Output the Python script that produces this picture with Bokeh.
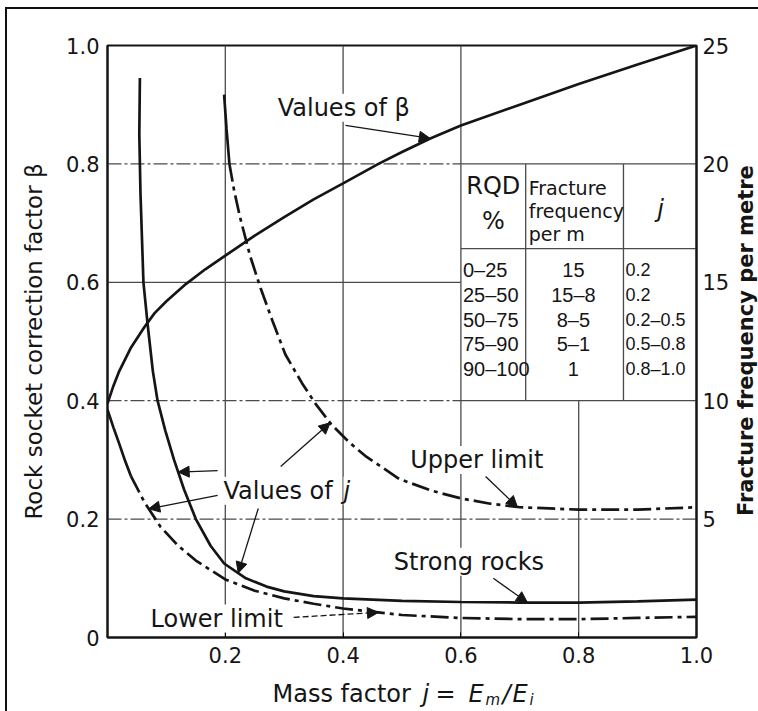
import numpy as np
from bokeh.plotting import figure
from bokeh.layouts import column, row
from bokeh.models import (Range1d, LinearAxis, FixedTicker, Label, Arrow, NormalHead,
                          PrintfTickFormatter)
from bokeh.embed import file_html
from bokeh.resources import INLINE

# ---------------- data ----------------
beta_x = [0.0, 0.01, 0.02, 0.04, 0.063, 0.08, 0.10, 0.133, 0.166, 0.20, 0.25, 0.30, 0.35, 0.40,
          0.46, 0.50, 0.548, 0.60, 0.70, 0.80, 0.90, 1.0]
beta_y = [0.395, 0.425, 0.45, 0.49, 0.525, 0.548, 0.568, 0.597, 0.622, 0.645, 0.679, 0.71, 0.74,
          0.767, 0.80, 0.82, 0.843, 0.865, 0.90, 0.935, 0.968, 1.0]

strong_x = [0.055, 0.054, 0.056, 0.061, 0.068, 0.077, 0.085, 0.098, 0.113, 0.13, 0.15, 0.175,
            0.198, 0.235, 0.27, 0.30, 0.35, 0.40, 0.50, 0.60, 0.70, 0.80, 0.90, 1.0]
strong_y = [0.945, 0.85, 0.75, 0.60, 0.53, 0.45, 0.40, 0.35, 0.30, 0.25, 0.20, 0.155,
            0.125, 0.10, 0.086, 0.078, 0.07, 0.066, 0.062, 0.06, 0.059, 0.059, 0.061, 0.064]

lower_x = [0.0, 0.01, 0.02, 0.03, 0.04, 0.063, 0.09, 0.12, 0.15, 0.20, 0.25, 0.30, 0.35, 0.40,
           0.50, 0.60, 0.70, 0.80, 0.90, 1.0]
lower_y = [0.385, 0.355, 0.327, 0.298, 0.272, 0.228, 0.187, 0.155, 0.13, 0.098, 0.079, 0.066,
           0.057, 0.049, 0.038, 0.033, 0.031, 0.031, 0.033, 0.035]

upper_x = [0.198, 0.202, 0.207, 0.215, 0.225, 0.242, 0.26, 0.28, 0.302, 0.33, 0.353, 0.38, 0.41,
           0.44, 0.495, 0.55, 0.60, 0.65, 0.70, 0.80, 0.90, 1.0]
upper_y = [0.917, 0.86, 0.80, 0.755, 0.71, 0.645, 0.59, 0.535, 0.478, 0.43, 0.395, 0.36, 0.33,
           0.305, 0.268, 0.248, 0.235, 0.226, 0.22, 0.216, 0.216, 0.22]

x_ticks = [0.2, 0.4, 0.6, 0.8, 1.0]
y_ticks = [0.0, 0.2, 0.4, 0.6, 0.8, 1.0]
freq_ticks = [5, 10, 15, 20, 25]

table_head = ["RQD", "%"]
table_head2 = ["Fracture", "frequency", "per m"]
rqd = ["0–25", "25–50", "50–75", "75–90", "90–100"]
freq = ["15", "15–8", "8–5", "5–1", "1"]
jvals = ["0.2", "0.2", "0.2–0.5", "0.5–0.8", "0.8–1.0"]

# ---------------- main figure ----------------
INK = "#151515"
GRID = "#4a4a4a"
FONT = "DejaVu Sans"

p = figure(width=725, height=666, output_backend="svg", toolbar_location=None,
           x_range=Range1d(0, 1), y_range=Range1d(0, 1),
           min_border_left=100, min_border_right=36, min_border_top=36, min_border_bottom=38,
           background_fill_color="white", border_fill_color="white")
p.xgrid.visible = False
p.ygrid.visible = False
p.outline_line_color = INK
p.outline_line_width = 2

xaxis = p.xaxis[0]
yaxis = p.yaxis[0]
p.extra_y_ranges = {"freq": Range1d(0, 25)}
raxis = LinearAxis(y_range_name="freq", ticker=FixedTicker(ticks=freq_ticks))
p.add_layout(raxis, "right")

for ax in (xaxis, yaxis, raxis):
    ax.axis_line_color = INK
    ax.axis_line_width = 2
    ax.major_tick_out = 0
    ax.major_tick_in = 0
    ax.minor_tick_out = 0
    ax.minor_tick_in = 0
    ax.major_label_text_font = FONT
    ax.major_label_text_font_size = "21px"
    ax.major_label_text_color = INK

xaxis.ticker = FixedTicker(ticks=x_ticks)
xaxis.formatter = PrintfTickFormatter(format="%.1f")
xaxis.major_tick_in = 5
xaxis.major_label_standoff = 9
yaxis.ticker = FixedTicker(ticks=y_ticks)
yaxis.formatter = PrintfTickFormatter(format="%.1f")
yaxis.major_label_overrides = {0: "0"}
yaxis.major_label_standoff = 8
raxis.major_label_standoff = 6

yaxis.axis_label = "Rock socket correction factor β"
yaxis.axis_label_text_font = FONT
yaxis.axis_label_text_font_size = "23px"
yaxis.axis_label_text_font_style = "normal"
yaxis.axis_label_text_color = INK
yaxis.axis_label_standoff = 16

# ---------------- grid / table rules ----------------
solid_h = [(0.0, 0.6, 0.6, 0.6), (0.6, 0.4, 1.0, 0.4), (0.6, 0.8, 1.0, 0.8), (0.6, 0.657, 1.0, 0.657)]
dash_h = [(0.0, 0.2, 1.0, 0.2), (0.0, 0.4, 0.6, 0.4), (0.0, 0.8, 0.6, 0.8)]
solid_v = [(0.2, 0.0, 0.2, 1.0), (0.4, 0.0, 0.4, 1.0), (0.6, 0.0, 0.6, 1.0), (0.8, 0.0, 0.8, 0.4),
           (0.71, 0.4, 0.71, 0.8), (0.876, 0.4, 0.876, 0.8)]
for segs, dash, w in ((solid_h, "solid", 1.3), (solid_v, "solid", 1.3), (dash_h, "14 3 3 3", 1.2)):
    p.segment(x0=[s[0] for s in segs], y0=[s[1] for s in segs],
              x1=[s[2] for s in segs], y1=[s[3] for s in segs],
              line_color=GRID, line_width=w, line_dash=dash)

# ---------------- curves ----------------
LW = 2.7
DASHDOT = "18 5 4 5"
p.line(beta_x, beta_y, line_color=INK, line_width=LW)
p.line(strong_x, strong_y, line_color=INK, line_width=LW)
p.line(upper_x[:3], upper_y[:3], line_color=INK, line_width=LW)
p.line(upper_x[2:], upper_y[2:], line_color=INK, line_width=LW, line_dash=DASHDOT)
p.line(lower_x[:5], lower_y[:5], line_color=INK, line_width=LW)
p.line(lower_x[4:], lower_y[4:], line_color=INK, line_width=LW, line_dash=DASHDOT)


def on_curve(xs, ys, x):
    xs = np.asarray(xs)
    ys = np.asarray(ys)
    o = np.argsort(xs)
    return float(np.interp(x, xs[o], ys[o]))


def lab(fig, x, y, text, size, style="normal", align="left", font=FONT, xo=0, yo=0,
        bg=None, angle=0.0, baseline="middle"):
    l = Label(x=x, y=y, text=text, text_font=font, text_font_size=f"{size}px",
              text_font_style=style, text_align=align, text_baseline=baseline,
              x_offset=xo, y_offset=yo, angle=angle, text_color=INK)
    if bg:
        l.background_fill_color = bg
    fig.add_layout(l)


def arrow(x0, y0, x1, y1, dash="solid"):
    p.add_layout(Arrow(end=NormalHead(size=11, fill_color=INK, line_color=INK, line_width=1),
                       x_start=x0, y_start=y0, x_end=x1, y_end=y1,
                       line_color=INK, line_width=1.3, line_dash=dash))


# ---------------- annotations ----------------
lab(p, 0.289, 0.895, "Values of β", 24, bg="white")
arrow(0.404, 0.865, 0.548, on_curve(beta_x, beta_y, 0.548))

lab(p, 0.197, 0.248, "Values of ", 24, bg="white")
lab(p, 0.197, 0.248, "j", 24, style="italic", xo=120, bg="white")
arrow(0.187, 0.282, 0.12, on_curve(strong_x, strong_y, 0.12))
arrow(0.187, 0.240, 0.07, on_curve(lower_x, lower_y, 0.07))
arrow(0.256, 0.218, 0.222, on_curve(strong_x, strong_y, 0.222))
arrow(0.294, 0.289, 0.378, on_curve(upper_x, upper_y, 0.378))

lab(p, 0.514, 0.30, "Upper limit", 24, bg="white")
arrow(0.642, 0.272, 0.696, on_curve(upper_x, upper_y, 0.696))

lab(p, 0.486, 0.128, "Strong rocks", 24, bg="white")
arrow(0.655, 0.10, 0.713, on_curve(strong_x, strong_y, 0.713))

lab(p, 0.073, 0.032, "Lower limit", 24, bg="white")
arrow(0.316, 0.034, 0.46, on_curve(lower_x, lower_y, 0.46), dash="6 3")

# ---------------- table ----------------
lab(p, 0.655, 0.762, table_head[0], 24, align="center")
lab(p, 0.655, 0.704, table_head[1], 24, align="center")
for k, t in enumerate(table_head2):
    lab(p, 0.71, 0.760 - k * 0.039, t, 19, xo=3)
lab(p, 0.939, 0.723, "j", 24, style="italic", align="center")

for i, (a, b, c) in enumerate(zip(rqd, freq, jvals)):
    yy = 0.621 - i * 0.042
    lab(p, 0.6, yy, a, 20, font="Liberation Sans", xo=2)
    lab(p, 0.791, yy, b, 20, font="Liberation Sans", align="center")
    lab(p, 0.876, yy, c, 18, font="Liberation Sans", xo=2)

# ---------------- right title strip ----------------
pr = figure(width=26, height=666, output_backend="svg", toolbar_location=None,
            x_range=Range1d(0, 26), y_range=Range1d(0, 666), min_border=0,
            x_axis_type=None, y_axis_type=None, outline_line_color=None,
            background_fill_color="white", border_fill_color="white")
pr.xgrid.visible = False
pr.ygrid.visible = False
lab(pr, 13, 334, "Fracture frequency per metre", 21, style="bold", align="center",
    angle=np.pi / 2)

# ---------------- bottom title strip ----------------
pb = figure(width=751, height=36, output_backend="svg", toolbar_location=None,
            x_range=Range1d(0, 751), y_range=Range1d(0, 36), min_border=0,
            x_axis_type=None, y_axis_type=None, outline_line_color=None,
            background_fill_color="white", border_fill_color="white")
pb.xgrid.visible = False
pb.ygrid.visible = False
xt_x, xt_y = 265, 18
lab(pb, xt_x, xt_y, "Mass factor ", 24)
lab(pb, xt_x, xt_y, "j", 24, style="italic", xo=150)
lab(pb, xt_x, xt_y, "=", 24, xo=163)
lab(pb, xt_x, xt_y, "E", 24, style="italic", xo=196)
lab(pb, xt_x, xt_y, "m", 15, style="italic", xo=213, yo=-6)
lab(pb, xt_x, xt_y, "/", 24, style="italic", xo=230)
lab(pb, xt_x, xt_y, "E", 24, style="italic", xo=240)
lab(pb, xt_x, xt_y, "i", 15, style="italic", xo=257, yo=-6)

layout = column(row(p, pr, spacing=0), pb, spacing=0,
                styles={"margin-left": "5px", "margin-top": "7px",
                        "border-left": "2px solid #111", "border-top": "2px solid #111"})

open("out.html", "w").write(file_html(layout, INLINE))
